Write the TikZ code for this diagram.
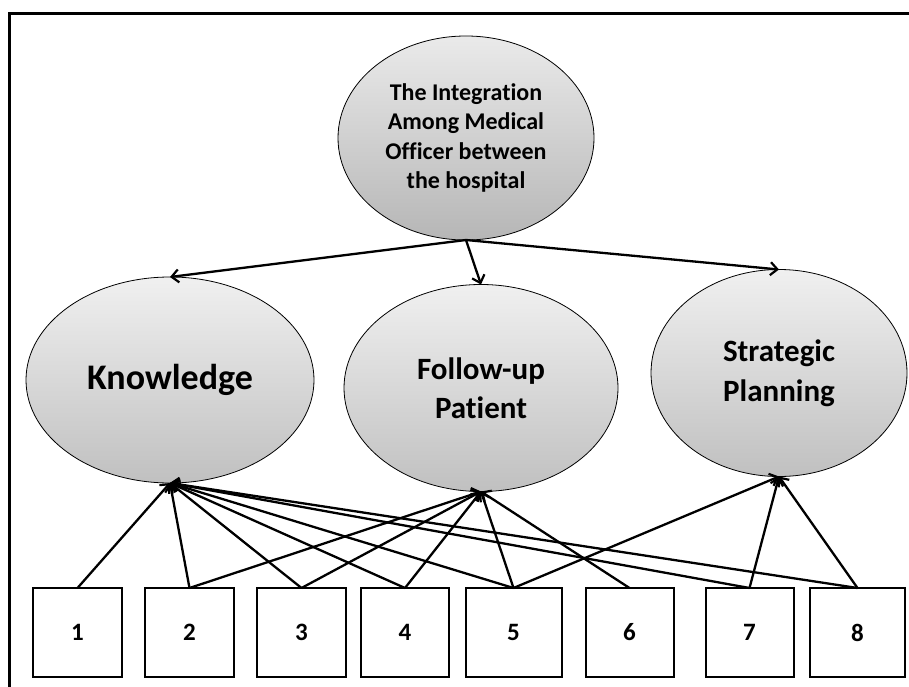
\documentclass[tikz,border=0pt]{standalone}
\usepackage{fontspec}
\setmainfont{Carlito}[Ligatures=NoCommon, Numbers=Lining]
\usetikzlibrary{arrows.meta,shapes.geometric}
\tikzset{
  oval/.style={ellipse, draw=black, line width=0.8pt, inner sep=0pt, outer sep=0pt,
    top color={rgb,255:red,240;green,240;blue,240}, bottom color={rgb,255:red,192;green,192;blue,192},
    align=center, font=\bfseries},
  itembox/.style={rectangle, draw=black, line width=2pt, fill=white, inner sep=0pt, outer sep=0pt,
    minimum height=89pt, font=\bfseries\fontsize{25}{29}\selectfont},
  arr/.style={line width=2.3pt, -{Straight Barb[length=7pt,width=13pt,line width=2.2pt]}},
  frameline/.style={line width=3pt, black}
}
\begin{document}
\begin{tikzpicture}[x=1pt,y=-1pt]
\useasboundingbox (0,0) rectangle (909,687);
\fill[white] (0,0) rectangle (909,687);
\draw[frameline] (9,690) -- (9,14) -- (912,14);

% ellipses
\node[oval, minimum width=256pt, minimum height=204pt, font=\bfseries\fontsize{24}{29.5}\selectfont,
  top color={rgb,255:red,234;green,234;blue,234}, bottom color={rgb,255:red,182;green,182;blue,182}]
  (T) at (466,138) {The Integration\\Among Medical\\Officer between\\the hospital};
\node[oval, minimum width=288pt, minimum height=206pt, font=\bfseries\fontsize{36}{40}\selectfont]
  (K) at (170,380) {Knowledge};
\node[oval, minimum width=274pt, minimum height=207pt, font=\bfseries\fontsize{31}{39}\selectfont]
  (F) at (481,388) {Follow-up\\Patient};
\node[oval, minimum width=256pt, minimum height=207pt, font=\bfseries\fontsize{31}{40}\selectfont]
  (S) at (779,373) {Strategic\\Planning};

% boxes
\node[itembox, minimum width=89pt] (b1) at (77.5,632.5) {1};
\node[itembox, minimum width=89pt] (b2) at (189.5,632.5) {2};
\node[itembox, minimum width=89pt] (b3) at (301.5,632.5) {3};
\node[itembox, minimum width=88pt] (b4) at (405,632.5) {4};
\node[itembox, minimum width=96pt] (b5) at (513.5,632.5) {5};
\node[itembox, minimum width=88pt] (b6) at (629.5,632.5) {6};
\node[itembox, minimum width=88pt] (b7) at (749.5,632.5) {7};
\node[itembox, minimum width=95pt] (b8) at (857.5,632.5) {8};

% top arrows
\draw[arr] (T.south) -- (K.north);
\draw[arr] (T.south) -- (F.north);
\draw[arr] (T.south) -- (S.north);

% knowledge
\foreach \b in {b1,b2,b3,b4,b5,b7,b8} \draw[arr] (\b.north) -- (K.south);
% follow-up
\foreach \b in {b2,b3,b4,b5,b6} \draw[arr] (\b.north) -- (F.south);
% strategic
\foreach \b in {b5,b7,b8} \draw[arr] (\b.north) -- (S.south);
\end{tikzpicture}
\end{document}
